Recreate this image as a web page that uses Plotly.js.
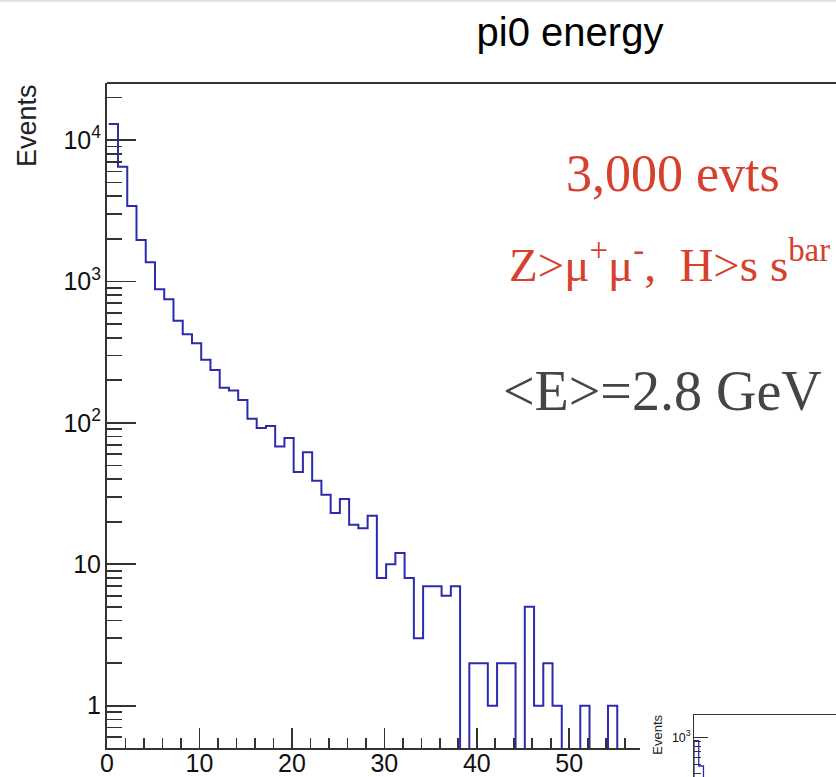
<!DOCTYPE html>
<html><head><meta charset="utf-8">
<script src="https://cdn.plot.ly/plotly-3.0.1.min.js"></script>
<style>html,body{margin:0;padding:0;background:#fff;}</style>
</head><body><div id="chart" style="width:836px;height:777px;"></div>
<script>
// ---- data ----
const binStart = 0.19;   // left edge of first bin (GeV)
const binWidth = 1.0;    // GeV
const counts = [13000,6480,3420,1965,1368,881,748,528,423,366,
                279,236,177,169,145,107,92,95,68,78,
                45,62,39,31,23,29,19,18,22,8,
                10,12,8,3,7,7,6,7,0,2,
                2,1,2,2,0,5,1,2,1,0,
                0,1,0,0,1,0,0];
const xTickVals = [0,10,20,30,40,50];
const insetBinStart = 0;
const insetBinWidth = 1;
const insetCounts = [920,480,200];
const titleText = "pi0 energy";
const yTitle = "Events";
const note1 = "3,000 evts";
const note2 = "Z&gt;μ<sup>+</sup>μ<sup>-</sup>,  H&gt;s s<sup>bar</sup>";
const note3 = "&lt;E&gt;=2.8 GeV";

// ---- helpers ----
const W = 836, H = 777, L = 107, T = 83;
const px = x => (x - L) / (W - L);
const py = y => (H - y) / (H - T);
const FLOOR = 0.05; // stand-in for empty bins on log axis (drawn below the frame)

function stepXY(start, width, vals, leadIn) {
  const xs = [], ys = [];
  if (leadIn) { xs.push(start); ys.push(FLOOR); }
  vals.forEach((v, i) => { xs.push(start + i * width); ys.push(v > 0 ? v : FLOOR); });
  const last = vals[vals.length - 1];
  xs.push(start + vals.length * width); ys.push(last > 0 ? last : FLOOR);
  xs.push(start + vals.length * width); ys.push(FLOOR);
  return {xs, ys};
}

const main = stepXY(binStart, binWidth, counts, false);
const ins = stepXY(insetBinStart, insetBinWidth, insetCounts, true);
const blue = '#2b2bae';
const axc = '#333333';
const sans = 'Liberation Sans, Arial, Helvetica, sans-serif';
const serif = 'Liberation Serif, Times New Roman, serif';

const traces = [
  {x: main.xs, y: main.ys, type: 'scatter', mode: 'lines',
   line: {shape: 'hv', color: blue, width: 2}, xaxis: 'x', yaxis: 'y', hoverinfo: 'skip'},
  {x: ins.xs, y: ins.ys, type: 'scatter', mode: 'lines',
   line: {shape: 'hv', color: blue, width: 1.3}, xaxis: 'x2', yaxis: 'y2', hoverinfo: 'skip'}
];

const layout = {
  width: W, height: H,
  margin: {l: L, r: 0, t: T, b: 0, pad: 0},
  paper_bgcolor: '#ffffff', plot_bgcolor: '#ffffff',
  showlegend: false, hovermode: false,
  title: {text: titleText, font: {family: sans, size: 40, color: '#000'},
          x: 570 / W, xref: 'container', xanchor: 'center',
          y: 1 - 32 / H, yref: 'container', yanchor: 'middle'},
  xaxis: {domain: [0, px(640)], range: [0, 57.65], anchor: 'y',
          showline: true, linecolor: axc, linewidth: 2,
          showgrid: false, zeroline: false,
          tickmode: 'array', tickvals: xTickVals,
          ticks: 'inside', ticklen: 20, tickwidth: 1.7, tickcolor: axc,
          ticklabelstandoff: -8,
          minor: {dtick: 2, tick0: 0, ticks: 'inside', ticklen: 10, tickwidth: 1.7, tickcolor: axc, showgrid: false},
          tickfont: {family: sans, size: 25, color: '#111'}},
  yaxis: {domain: [py(748), 1], type: 'log', range: [-0.299, 4.403], anchor: 'x',
          showline: true, linecolor: axc, linewidth: 2,
          showgrid: false, zeroline: false,
          tickmode: 'linear', tick0: 0, dtick: 1, exponentformat: 'power',
          ticks: 'inside', ticklen: 29, tickwidth: 1.7, tickcolor: axc,
          minor: {dtick: 'D1', ticks: 'inside', ticklen: 15, tickwidth: 1.7, tickcolor: axc, showgrid: false},
          tickfont: {family: sans, size: 20, color: '#111'}},
  xaxis2: {domain: [px(694), 1], range: [0, 30], anchor: 'y2', side: 'top',
           showline: true, linecolor: axc, linewidth: 1.3,
           showgrid: false, zeroline: false, showticklabels: false, ticks: ''},
  yaxis2: {domain: [0, py(715)], type: 'log', range: [2.559, 3.248], anchor: 'x2',
           showline: true, linecolor: axc, linewidth: 1.3,
           showgrid: false, zeroline: false,
           tickmode: 'linear', tick0: 0, dtick: 1, exponentformat: 'power',
           ticks: 'inside', ticklen: 14, tickwidth: 1, tickcolor: axc,
           minor: {dtick: 'D1', ticks: 'inside', ticklen: 7, tickwidth: 1, tickcolor: axc, showgrid: false},
           tickfont: {family: sans, size: 10, color: '#111'}},
  shapes: [
    {type: 'line', xref: 'paper', yref: 'paper', x0: 0, x1: 1, y0: 1, y1: 1,
     line: {color: axc, width: 2}},
    {type: 'line', xref: 'paper', yref: 'paper', x0: px(0), x1: 1, y0: py(0.8), y1: py(0.8),
     line: {color: '#e4e0d8', width: 2}}
  ],
  annotations: [
    {text: yTitle, xref: 'paper', yref: 'paper', x: px(26.5), y: py(125.5),
     xanchor: 'center', yanchor: 'middle', textangle: -90, showarrow: false,
     font: {family: sans, size: 27, color: '#222'}},
    {text: note1, xref: 'paper', yref: 'paper', x: px(672.5), y: py(173),
     xanchor: 'center', yanchor: 'middle', showarrow: false,
     font: {family: serif, size: 52, color: '#d6402c'}},
    {text: note2, xref: 'paper', yref: 'paper', x: px(669), y: py(261),
     xanchor: 'center', yanchor: 'middle', showarrow: false,
     font: {family: serif, size: 47, color: '#d6402c'}},
    {text: note3, xref: 'paper', yref: 'paper', x: px(662.5), y: py(391),
     xanchor: 'center', yanchor: 'middle', showarrow: false,
     font: {family: serif, size: 56, color: '#454545'}},
    {text: yTitle, xref: 'paper', yref: 'paper', x: px(656.7), y: py(735),
     xanchor: 'center', yanchor: 'middle', textangle: -90, showarrow: false,
     font: {family: sans, size: 13, color: '#222'}}
  ]
};

Plotly.newPlot('chart', traces, layout, {displayModeBar: false, staticPlot: true});
</script>
</body></html>
